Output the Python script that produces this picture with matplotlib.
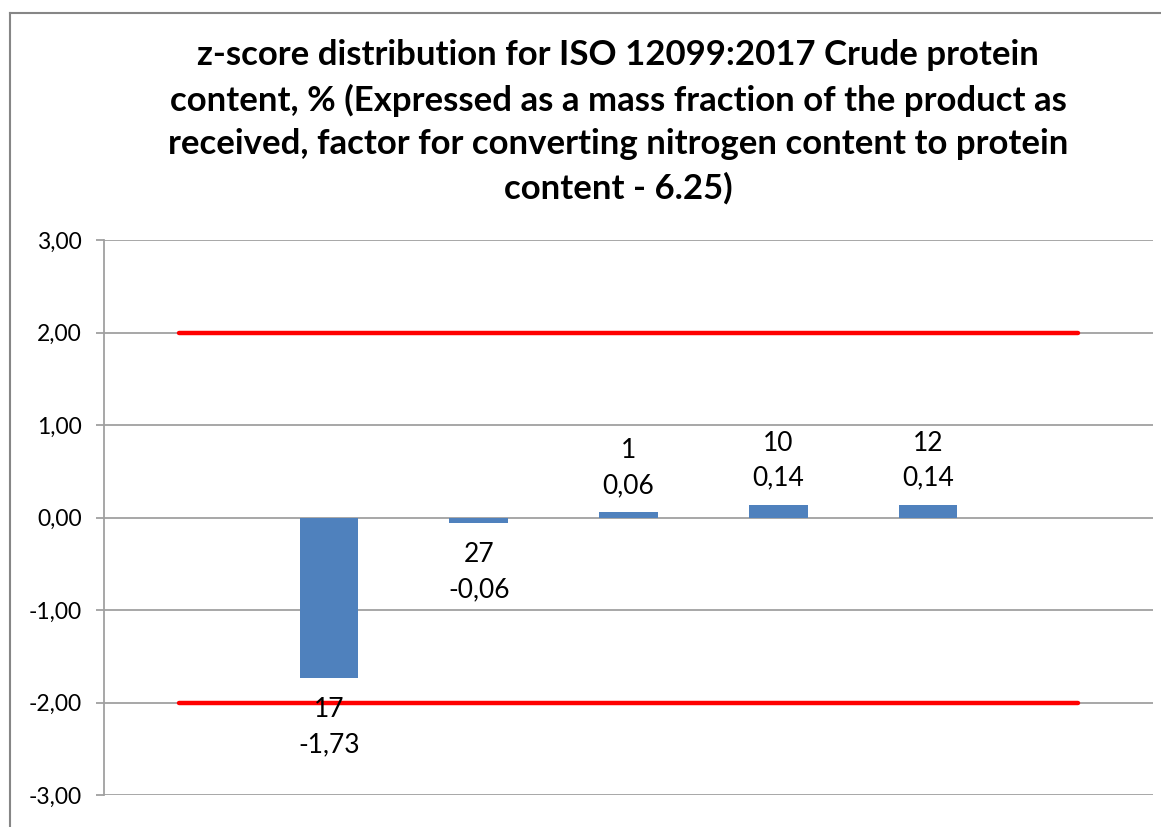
import numpy as np
import matplotlib.pyplot as plt
from matplotlib.lines import Line2D

plt.rcParams['font.family'] = ['Lato', 'DejaVu Sans']

# data
labs = ['', '17', '27', '1', '10', '12', '']
z = [np.nan, -1.73, -0.06, 0.06, 0.14, 0.14, np.nan]
upper = [2, 2, 2, 2, 2, 2, 2]
lower = [-2, -2, -2, -2, -2, -2, -2]
yticks = [-3, -2, -1, 0, 1, 2, 3]

title = ("z-score distribution for ISO 12099:2017 Crude protein\n"
         "content, % (Expressed as a mass fraction of the product as\n"
         "received, factor for converting nitrogen content to protein\n"
         "content - 6.25)")

fig = plt.figure(figsize=(11.61, 8.27), dpi=100)
ax = fig.add_axes([104 / 1161, 1 - 795 / 827, (1153 - 104) / 1161, (795 - 240) / 827])

x = np.arange(len(labs))
ax.bar(x, z, width=0.39, color='#4F81BD', zorder=2)
ax.plot(x, upper, color='#FF0000', lw=3.2, solid_capstyle='round', zorder=3)
ax.plot(x, lower, color='#FF0000', lw=3.2, solid_capstyle='round', zorder=3)

# data labels
for xi, v, c in zip(x, z, labs):
    if np.isnan(v):
        continue
    txt = c + '\n' + f'{v:.2f}'.replace('.', ',')
    if v < 0:
        ax.annotate(txt, (xi, v), xytext=(0, -14), textcoords='offset points',
                    ha='center', va='top', fontsize=19, linespacing=1.5)
    else:
        ax.annotate(txt, (xi, v), xytext=(0, 10), textcoords='offset points',
                    ha='center', va='bottom', fontsize=19, linespacing=1.5)

ax.set_xlim(-0.5, len(labs) - 0.5)
ax.set_ylim(-3, 3)
ax.set_yticks(yticks)
ax.set_yticklabels([f'{t:.2f}'.replace('.', ',') for t in yticks], fontsize=16.5)
ax.set_xticks([])
ax.grid(axis='y', color='#A0A0A0', lw=1.3, zorder=0)
ax.tick_params(axis='y', length=6, width=1.3, color='#A0A0A0', pad=10)
for s in ['top', 'right', 'bottom']:
    ax.spines[s].set_visible(False)
ax.spines['left'].set_color('#A0A0A0')
ax.spines['left'].set_linewidth(1.3)

fig.text(618 / 1161, 1 - 122 / 827, title, ha='center', va='center',
         fontsize=25, fontweight='bold', linespacing=1.45)

# chart border
fig.add_artist(Line2D([10 / 1161, 10 / 1161], [0, 1 - 13 / 827], color='#868686', lw=1.5))
fig.add_artist(Line2D([10 / 1161, 1], [1 - 13 / 827, 1 - 13 / 827], color='#868686', lw=1.5))

fig.savefig('out.png', dpi=100)
